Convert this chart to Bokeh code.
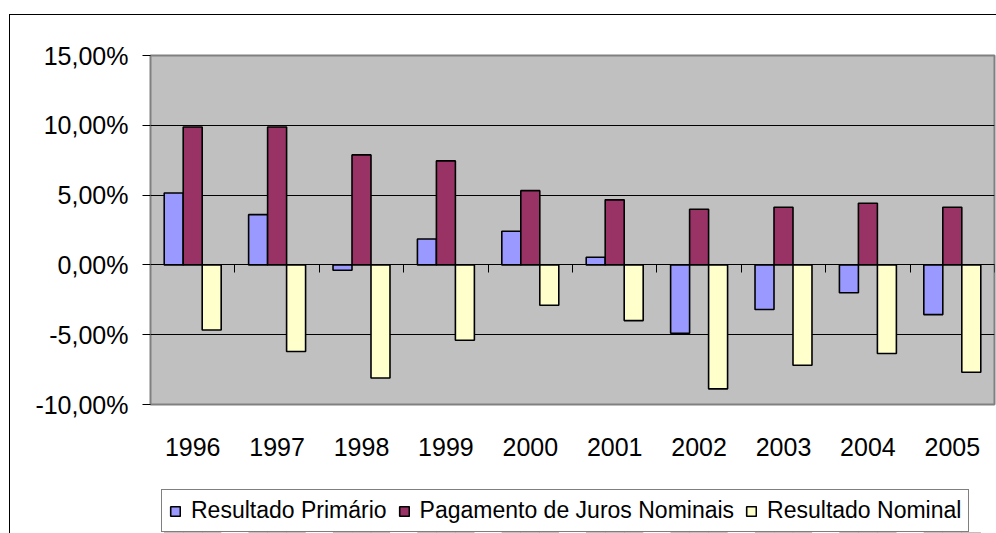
from bokeh.plotting import figure
from bokeh.layouts import column
from bokeh.models import (ColumnDataSource, FixedTicker, LinearAxis, Legend,
                          LegendItem, Range1d)
from bokeh.transform import dodge
from bokeh.embed import file_html
from bokeh.resources import INLINE
import numpy as np

# ---- data (percent of GDP) ----
years = ["1996", "1997", "1998", "1999", "2000", "2001", "2002", "2003", "2004", "2005"]
resultado_primario = [5.15, 3.60, -0.38, 1.86, 2.41, 0.55, -4.90, -3.20, -2.00, -3.56]
juros_nominais = [9.88, 9.88, 7.88, 7.45, 5.32, 4.66, 3.99, 4.13, 4.42, 4.13]
resultado_nominal = [-4.66, -6.20, -8.10, -5.40, -2.89, -3.99, -8.88, -7.19, -6.35, -7.69]
series_names = ["Resultado Primário", "Pagamento de Juros Nominais", "Resultado Nominal"]
series_colors = ["#9999FF", "#993366", "#FFFFCC"]
y_ticks = [-10, -5, 0, 5, 10, 15]
y_tick_labels = ["-10,00%", "-5,00%", "0,00%", "5,00%", "10,00%", "15,00%"]

FONT = "Liberation Sans"
n = len(years)
idx = np.arange(n)
centers = idx + 0.5
bar_w = 0.225

src = ColumnDataSource(dict(
    center=centers,
    prim=resultado_primario,
    juros=juros_nominais,
    nom=resultado_nominal,
))

W = 986
H_MAIN = 457
H_LEG = 61

p = figure(width=W, height=H_MAIN, output_backend="svg", toolbar_location=None,
           x_range=Range1d(0, n), y_range=Range1d(-10, 15),
           min_border_left=140, min_border_right=2, min_border_top=40,
           min_border_bottom=68, x_axis_location=None, y_axis_location=None)

p.background_fill_color = "#C0C0C0"
p.border_fill_color = "white"
p.outline_line_color = "#808080"
p.outline_line_width = 2
p.xgrid.visible = False
p.ygrid.ticker = FixedTicker(ticks=y_ticks)
p.ygrid.grid_line_color = "#000000"
p.ygrid.grid_line_width = 1

offsets = [-bar_w, 0.0, bar_w]
fields = ["prim", "juros", "nom"]
for f, off, col in zip(fields, offsets, series_colors):
    p.vbar(x=dodge("center", off), top=f, bottom=0, width=bar_w, source=src,
           fill_color=col, line_color="#000000", line_width=1.6)

# y axis
yax = LinearAxis(ticker=FixedTicker(ticks=y_ticks))
yax.major_label_overrides = {t: l for t, l in zip(y_ticks, y_tick_labels)}
yax.major_label_text_font = FONT
yax.major_label_text_font_size = "25px"
yax.major_label_text_color = "#000000"
yax.major_tick_out = 8
yax.major_tick_in = 0
yax.minor_tick_line_color = None
yax.major_label_standoff = 14
yax.axis_line_color = "#808080"
yax.major_tick_line_color = "#000000"
p.add_layout(yax, "left")

# year labels at the bottom
xax = LinearAxis(ticker=FixedTicker(ticks=list(centers)))
xax.major_label_overrides = {float(c): y for c, y in zip(centers, years)}
xax.major_label_text_font = FONT
xax.major_label_text_font_size = "25px"
xax.major_label_text_color = "#000000"
xax.major_tick_line_color = None
xax.minor_tick_line_color = None
xax.axis_line_color = None
xax.major_tick_out = 0
xax.major_tick_in = 0
xax.major_label_standoff = 33
p.add_layout(xax, "below")

# category axis at zero with tick marks between categories
bounds = list(np.arange(1, n + 1).astype(float))
zax = LinearAxis(ticker=FixedTicker(ticks=bounds), fixed_location=0)
zax.major_label_overrides = {b: "" for b in bounds}
zax.major_label_text_font_size = "0px"
zax.axis_line_color = "#000000"
zax.major_tick_line_color = "#000000"
zax.major_tick_out = 8
zax.major_tick_in = 0
zax.minor_tick_line_color = None
p.add_layout(zax, "below")

# ---- legend strip (its frame shows no data range, only the legend) ----
q = figure(width=W, height=H_LEG, output_backend="svg", toolbar_location=None,
           x_range=Range1d(0, n), y_range=Range1d(20, 30),
           min_border=0, min_border_left=0, min_border_right=0,
           min_border_top=0, min_border_bottom=0,
           x_axis_location=None, y_axis_location=None)
q.grid.visible = False
q.outline_line_color = None
q.background_fill_color = "white"
q.border_fill_color = "white"
leg_renderers = []
for f, off, col in zip(fields, offsets, series_colors):
    r = q.vbar(x=dodge("center", off), top=f, bottom=0, width=bar_w, source=src,
               fill_color=col, line_color="#000000", line_width=1.6)
    leg_renderers.append(r)

legend = Legend(items=[LegendItem(label=nm, renderers=[r]) for nm, r in zip(series_names, leg_renderers)],
                orientation="horizontal", location=(11, 1))
legend.label_text_font = FONT
legend.label_text_font_size = "23px"
legend.label_text_color = "#000000"
legend.glyph_width = 12
legend.glyph_height = 12
legend.label_standoff = 10
legend.spacing = 11
legend.padding = 7
legend.margin = 0
legend.border_line_color = "#000000"
legend.border_line_width = 1
legend.background_fill_color = "white"
legend.background_fill_alpha = 1
q.add_layout(legend, "center")

layout = column(p, q, spacing=0)
layout.styles = {"border-left": "1px solid #000000", "border-top": "1px solid #000000",
                 "margin-top": "14px", "margin-left": "9px"}

open("out.html", "w").write(file_html(layout, INLINE))
